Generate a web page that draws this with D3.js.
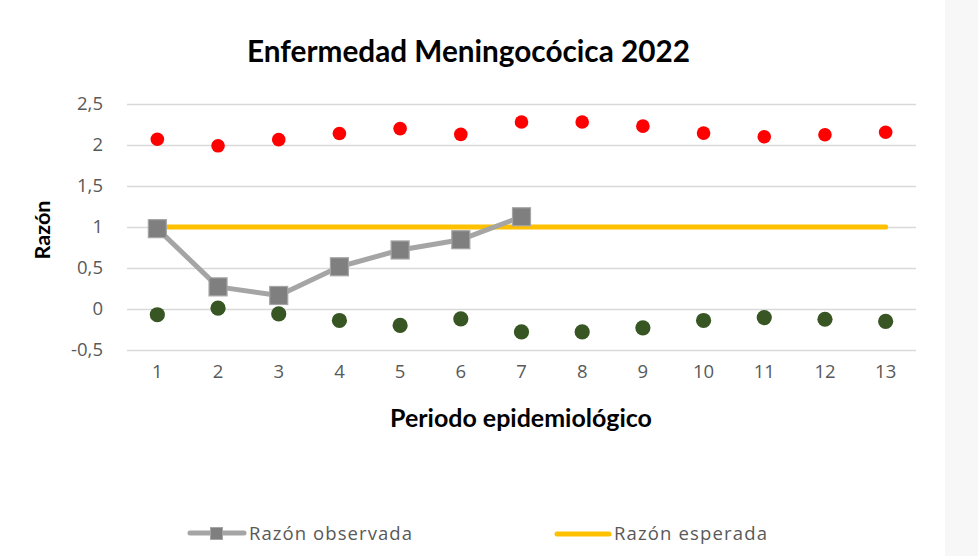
<!DOCTYPE html>
<html><head><meta charset="utf-8">
<script src="https://cdn.jsdelivr.net/npm/d3@7"></script>
<style>body{margin:0;background:#fff;} svg{display:block;}</style>
</head><body>
<svg id="c" width="978" height="556"></svg>
<script>
const periods = [1,2,3,4,5,6,7,8,9,10,11,12,13];
const upper = [2.07,1.99,2.065,2.14,2.20,2.13,2.28,2.28,2.23,2.145,2.10,2.125,2.155];
const lower = [-0.07,0.01,-0.06,-0.14,-0.20,-0.12,-0.28,-0.28,-0.23,-0.14,-0.105,-0.125,-0.15];
const observed = [0.98,0.27,0.165,0.515,0.72,0.845,1.125];
const expected = [1,1,1,1,1,1,1,1,1,1,1,1,1];
const yTicks = [-0.5,0,0.5,1,1.5,2,2.5];
const title = "Enfermedad Meningocócica 2022";
const yTitle = "Razón";
const xTitle = "Periodo epidemiológico";
const legendLabels = ["Razón observada","Razón esperada"];

const svg = d3.select("#c");
svg.append("rect").attr("x",945).attr("y",0).attr("width",33).attr("height",556).attr("fill","#f7f7f7");

const x = d3.scaleBand().domain(periods).range([127,916]);
const xc = d => x(d) + x.bandwidth()/2;
const y = d3.scaleLinear().domain([-0.5,2.5]).range([350,104]);
const fmt = d => String(d).replace(".", ",");

// grid + y axis
const yAxis = d3.axisLeft(y).tickValues(yTicks).tickFormat(fmt).tickSize(-(916-127)).tickPadding(24);
const gy = svg.append("g").attr("transform","translate(127,0)").call(yAxis);
gy.select(".domain").remove();
gy.selectAll(".tick line").attr("stroke","#d9d9d9").attr("stroke-width",1.5);
gy.selectAll(".tick text").attr("fill","#595959").style("font-family","'Open Sans'").style("font-size","18.5px");

// x axis labels
const xAxis = d3.axisBottom(x).tickSize(0).tickPadding(15);
const gx = svg.append("g").attr("transform","translate(0,350)").call(xAxis);
gx.select(".domain").remove();
gx.selectAll(".tick text").attr("fill","#595959").style("font-family","'Open Sans'").style("font-size","18.5px");

// expected line
svg.append("path").datum(periods.map((p,i)=>[p,expected[i]]))
  .attr("d", d3.line().x(d=>xc(d[0])).y(d=>y(d[1])))
  .attr("fill","none").attr("stroke","#ffc000").attr("stroke-width",5).attr("stroke-linecap","round");

// observed line
const obs = observed.map((v,i)=>[periods[i],v]);
svg.append("path").datum(obs)
  .attr("d", d3.line().x(d=>xc(d[0])).y(d=>y(d[1])))
  .attr("fill","none").attr("stroke","#a5a5a5").attr("stroke-width",5).attr("stroke-linejoin","round");
svg.selectAll(".sq").data(obs).join("rect")
  .attr("x", d=>xc(d[0])-9).attr("y", d=>y(d[1])-9).attr("width",18).attr("height",18)
  .attr("fill","#7f7f7f").attr("stroke","#a5a5a5").attr("stroke-width",1.2);

// upper & lower points
svg.selectAll(".up").data(periods).join("circle")
  .attr("cx", d=>xc(d)).attr("cy",(d,i)=>y(upper[i])).attr("r",6.8).attr("fill","#ff0000");
svg.selectAll(".lo").data(periods).join("circle")
  .attr("cx", d=>xc(d)).attr("cy",(d,i)=>y(lower[i])).attr("r",7.6).attr("fill","#375623");

function fit(sel, target, base){
  sel.style("font-size", base+"px");
  const w = sel.node().getComputedTextLength();
  sel.style("font-size", (base*target/w).toFixed(2)+"px");
}
// titles
const t = svg.append("text").attr("x",468.5).attr("y",62).attr("text-anchor","middle")
  .style("font-family","Lato").style("font-weight","bold").attr("fill","#000").text(title);
fit(t, 443, 26);
const yt = svg.append("text").attr("transform","translate(50,230) rotate(-90)").attr("text-anchor","middle")
  .style("font-family","Lato").style("font-weight","bold").attr("fill","#000").text(yTitle);
fit(yt, 59, 20);
const xt = svg.append("text").attr("x",521).attr("y",427).attr("text-anchor","middle")
  .style("font-family","Lato").style("font-weight","bold").attr("fill","#000").text(xTitle);
fit(xt, 262, 20);

// legend
const lg = svg.append("g");
lg.append("line").attr("x1",190).attr("x2",244).attr("y1",533).attr("y2",533).attr("stroke","#a5a5a5").attr("stroke-width",5).attr("stroke-linecap","round");
lg.append("rect").attr("x",210.5).attr("y",527.5).attr("width",12).attr("height",12).attr("fill","#7f7f7f").attr("stroke","#a5a5a5").attr("stroke-width",1);
lg.append("text").attr("x",249).attr("y",539.5).attr("textLength",163).attr("lengthAdjust","spacing").text(legendLabels[0]);
lg.append("line").attr("x1",557).attr("x2",609).attr("y1",534).attr("y2",534).attr("stroke","#ffc000").attr("stroke-width",5).attr("stroke-linecap","round");
lg.append("text").attr("x",614).attr("y",539.5).attr("textLength",153).attr("lengthAdjust","spacing").text(legendLabels[1]);
lg.selectAll("text").attr("fill","#595959").style("font-family","'Open Sans'").style("font-size","18.5px");
</script>
</body></html>
